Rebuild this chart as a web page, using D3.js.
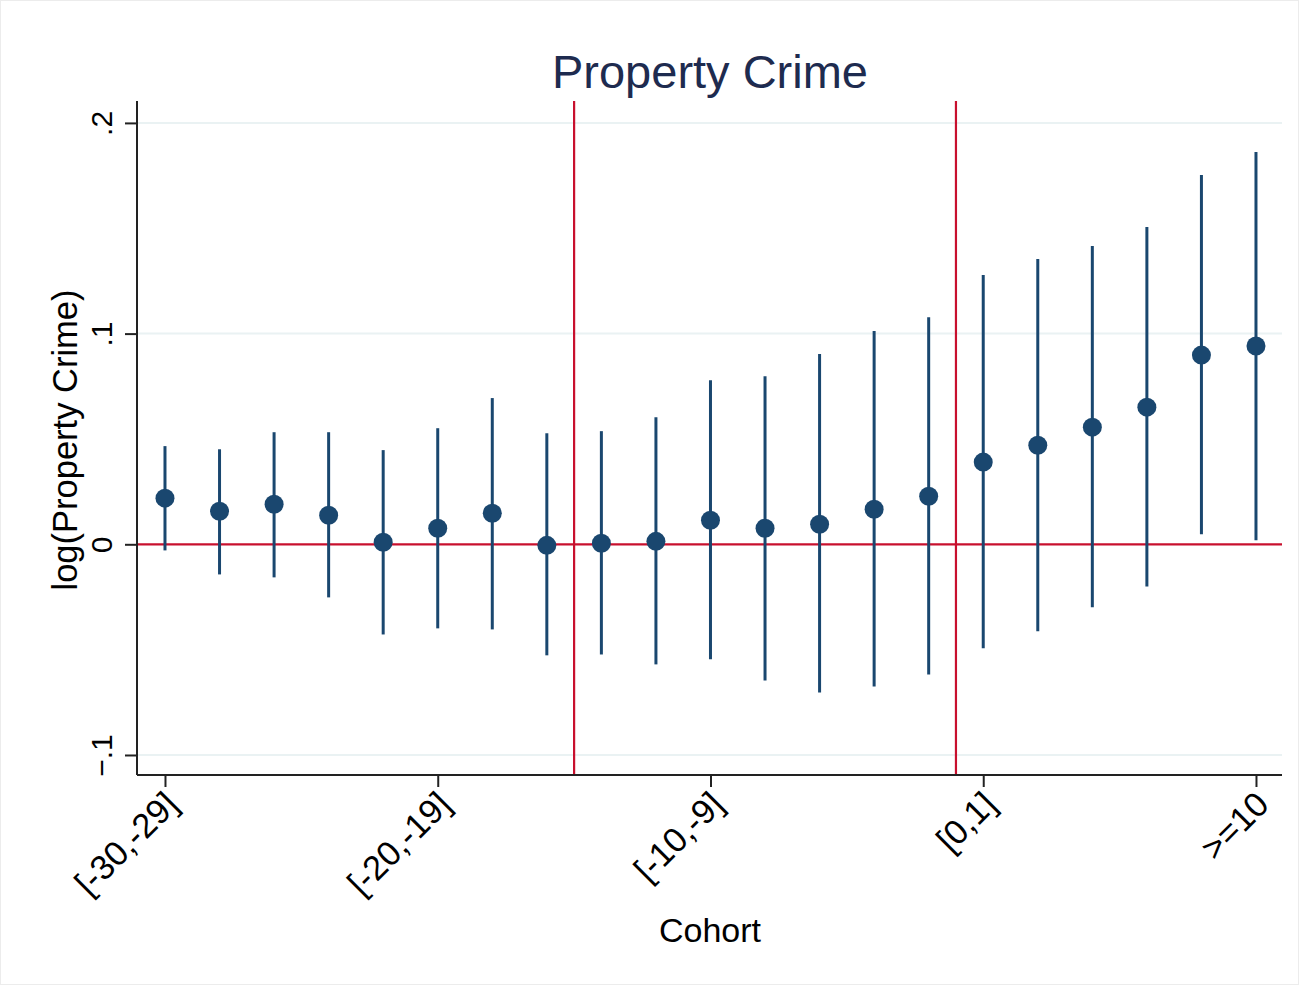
<!DOCTYPE html>
<html>
<head>
<meta charset="utf-8">
<script src="https://cdn.jsdelivr.net/npm/d3@7"></script>
<style>
  html, body { margin: 0; padding: 0; background: #fff; }
  svg { display: block; font-family: "Liberation Sans", Arial, sans-serif; }
</style>
</head>
<body>
<svg id="chart" width="1299" height="985"></svg>
<script>
// Cohort bins (two-year bins, last one open-ended)
const cohorts = ["[-30,-29]","[-28,-27]","[-26,-25]","[-24,-23]","[-22,-21]","[-20,-19]","[-18,-17]",
  "[-16,-15]","[-14,-13]","[-12,-11]","[-10,-9]","[-8,-7]","[-6,-5]","[-4,-3]","[-2,-1]",
  "[0,1]","[2,3]","[4,5]","[6,7]","[8,9]",">=10"];
// Point estimates and 95% confidence bounds
const estimate = [0.0219,0.0157,0.0190,0.0138,0.0010,0.0076,0.0147,-0.0005,0.0005,0.0014,0.0114,
  0.0076,0.0095,0.0166,0.0228,0.0390,0.0470,0.0556,0.0651,0.0898,0.0941];
const ciUpper = [0.0466,0.0451,0.0532,0.0532,0.0447,0.0551,0.0694,0.0527,0.0537,0.0603,0.0779,
  0.0798,0.0903,0.1012,0.1078,0.1278,0.1354,0.1416,0.1506,0.1753,0.1862];
const ciLower = [-0.0029,-0.0143,-0.0157,-0.0252,-0.0428,-0.0399,-0.0404,-0.0527,-0.0523,-0.0570,-0.0546,
  -0.0646,-0.0703,-0.0675,-0.0618,-0.0494,-0.0413,-0.0299,-0.0200,0.0048,0.0019];
// Labelled cohorts on the x axis
const xTickLabels = ["[-30,-29]","[-20,-19]","[-10,-9]","[0,1]",">=10"];
// y-axis ticks
const yTicks = [-0.1, 0, 0.1, 0.2];
// Vertical reference lines sit between these pairs of cohorts
const refBetween = [["[-16,-15]","[-14,-13]"], ["[-2,-1]","[0,1]"]];

const svg = d3.select("#chart");
const plotLeft = 137, plotRight = 1282, plotTop = 101, plotBottom = 775;

const x = d3.scaleLinear().domain([-0.513, cohorts.length - 1 + 0.477]).range([plotLeft, plotRight]);
const y = d3.scaleLinear().domain([-0.1095, 0.2104]).range([plotBottom, plotTop]);
const navy = "#1a476f", red = "#c8102e";

// outer frame
svg.append("rect").attr("x", 0.5).attr("y", 0.5).attr("width", 1298).attr("height", 984)
  .attr("fill", "none").attr("stroke", "#ececec");

// gridlines
svg.append("g").selectAll("line").data(yTicks.filter(v => v !== 0)).join("line")
  .attr("x1", plotLeft).attr("x2", plotRight).attr("y1", d => y(d)).attr("y2", d => y(d))
  .attr("stroke", "#eaf2f3").attr("stroke-width", 2);

// reference lines
svg.append("line").attr("x1", plotLeft).attr("x2", plotRight).attr("y1", y(0)).attr("y2", y(0))
  .attr("stroke", red).attr("stroke-width", 2.2);
const midOf = d => x((cohorts.indexOf(d[0]) + cohorts.indexOf(d[1])) / 2);
svg.append("g").selectAll("line").data(refBetween).join("line")
  .attr("x1", midOf).attr("x2", midOf)
  .attr("y1", plotTop).attr("y2", plotBottom)
  .attr("stroke", red).attr("stroke-width", 2.2);

// confidence intervals
const idx = d3.range(cohorts.length);
svg.append("g").selectAll("line").data(idx).join("line")
  .attr("x1", i => x(i)).attr("x2", i => x(i))
  .attr("y1", i => y(ciLower[i])).attr("y2", i => y(ciUpper[i]))
  .attr("stroke", navy).attr("stroke-width", 3);

// point estimates
svg.append("g").selectAll("circle").data(idx).join("circle")
  .attr("cx", i => x(i)).attr("cy", i => y(estimate[i])).attr("r", 9.5)
  .attr("fill", navy);

// y axis
const yAxis = svg.append("g").attr("transform", `translate(${plotLeft},0)`)
  .call(d3.axisLeft(y).tickValues(yTicks).tickSize(12).tickPadding(0)
    .tickFormat(d => d === 0 ? "0" : d3.format(".1f")(d).replace("0.", ".")));
yAxis.select(".domain").attr("d", `M0,${plotTop}V${plotBottom}`).attr("stroke", "#222").attr("stroke-width", 2);
yAxis.selectAll(".tick line").attr("stroke", "#222").attr("stroke-width", 2);
yAxis.selectAll(".tick text")
  .attr("x", null).attr("dy", null)
  .attr("transform", "translate(-25,0) rotate(-90)")
  .attr("text-anchor", "middle").attr("font-size", 30).attr("fill", "#000");

// x axis
const xAxis = svg.append("g").attr("transform", `translate(0,${plotBottom})`)
  .call(d3.axisBottom(x).tickValues(xTickLabels.map(l => cohorts.indexOf(l)))
    .tickSize(12).tickFormat(i => cohorts[i]));
xAxis.select(".domain").attr("d", `M${plotLeft},0H${plotRight}`).attr("stroke", "#222").attr("stroke-width", 2);
xAxis.selectAll(".tick line").attr("stroke", "#222").attr("stroke-width", 2);
xAxis.selectAll(".tick text")
  .attr("y", null).attr("dy", null)
  .attr("transform", "translate(8,25) rotate(-45)")
  .attr("text-anchor", "end").attr("dominant-baseline", "middle")
  .attr("font-size", 34.5).attr("fill", "#000");

// titles
svg.append("text").attr("x", 710).attr("y", 88).attr("text-anchor", "middle")
  .attr("font-size", 47).attr("fill", "#1e2b4f").text("Property Crime");
svg.append("text").attr("x", 710).attr("y", 942).attr("text-anchor", "middle")
  .attr("font-size", 34).attr("fill", "#000").text("Cohort");
svg.append("text").attr("transform", `translate(77,${(plotTop + plotBottom) / 2 + 2}) rotate(-90)`)
  .attr("text-anchor", "middle").attr("font-size", 34.5).attr("fill", "#000").text("log(Property Crime)");
</script>
</body>
</html>
